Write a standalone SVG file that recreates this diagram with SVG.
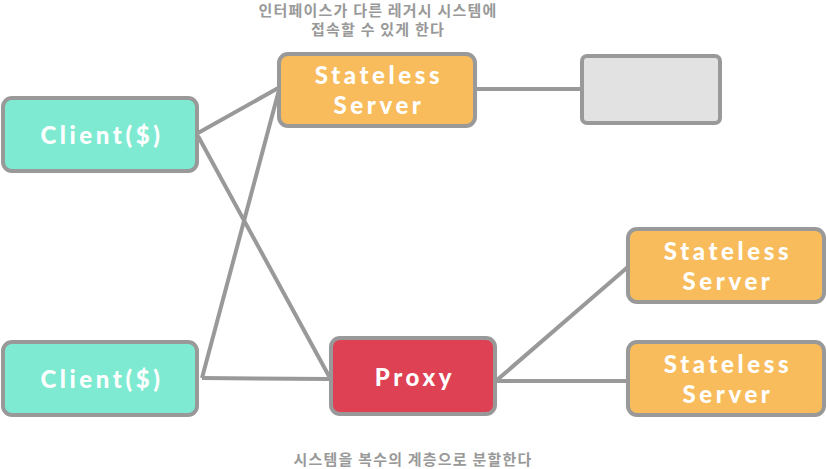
<svg xmlns="http://www.w3.org/2000/svg" width="826" height="469" viewBox="0 0 826 469">
<style>
.n{stroke:#999;stroke-width:4}
.t{font-family:"Lato","Open Sans",sans-serif;font-weight:900;font-size:24px;fill:#fff;text-anchor:middle;letter-spacing:3.6px}
.c{font-family:"Noto Sans CJK KR",sans-serif;font-weight:700;font-size:15px;fill:#999;text-anchor:middle;letter-spacing:1.2px}
.e{stroke:#999;stroke-width:4;fill:none}
</style>
<g id="connectors">
<line class="e" x1="198" y1="133" x2="280" y2="87"/>
<line class="e" x1="198" y1="136" x2="330" y2="378"/>
<line class="e" x1="202" y1="378" x2="279" y2="90"/>
<line class="e" x1="202" y1="378" x2="330" y2="379"/>
<line class="e" x1="497" y1="380" x2="629" y2="266"/>
<line class="e" x1="497" y1="381" x2="629" y2="381"/>
<line class="e" x1="475" y1="89" x2="582" y2="89"/>
</g>
<g id="client1"><rect class="n" x="3" y="98" width="194" height="73" rx="9" fill="#7fead2"/><text class="t" x="102" y="144">Client($)</text></g>
<g id="client2"><rect class="n" x="3" y="342" width="194" height="73" rx="9" fill="#7fead2"/><text class="t" x="102" y="388">Client($)</text></g>
<g id="server1"><rect class="n" x="279" y="54" width="196" height="72" rx="9" fill="#f8bc5c"/><text class="t" x="379" y="84">Stateless</text><text class="t" x="379" y="114">Server</text></g>
<g id="legacy"><rect class="n" x="582" y="56" width="138" height="67" rx="5" fill="#e2e2e2"/></g>
<g id="proxy"><rect class="n" x="331" y="338" width="164" height="76" rx="9" fill="#de4054"/><text class="t" x="415" y="386">Proxy</text></g>
<g id="server2"><rect class="n" x="628" y="229" width="196" height="73" rx="9" fill="#f8bc5c"/><text class="t" x="728" y="260">Stateless</text><text class="t" x="728" y="290">Server</text></g>
<g id="server3"><rect class="n" x="628" y="342" width="196" height="73" rx="9" fill="#f8bc5c"/><text class="t" x="728" y="373">Stateless</text><text class="t" x="728" y="403">Server</text></g>
<text class="c" x="378" y="16">인터페이스가 다른 레거시 시스템에</text>
<text class="c" x="378" y="35">접속할 수 있게 한다</text>
<text class="c" x="413" y="465">시스템을 복수의 계층으로 분할한다</text>
</svg>
